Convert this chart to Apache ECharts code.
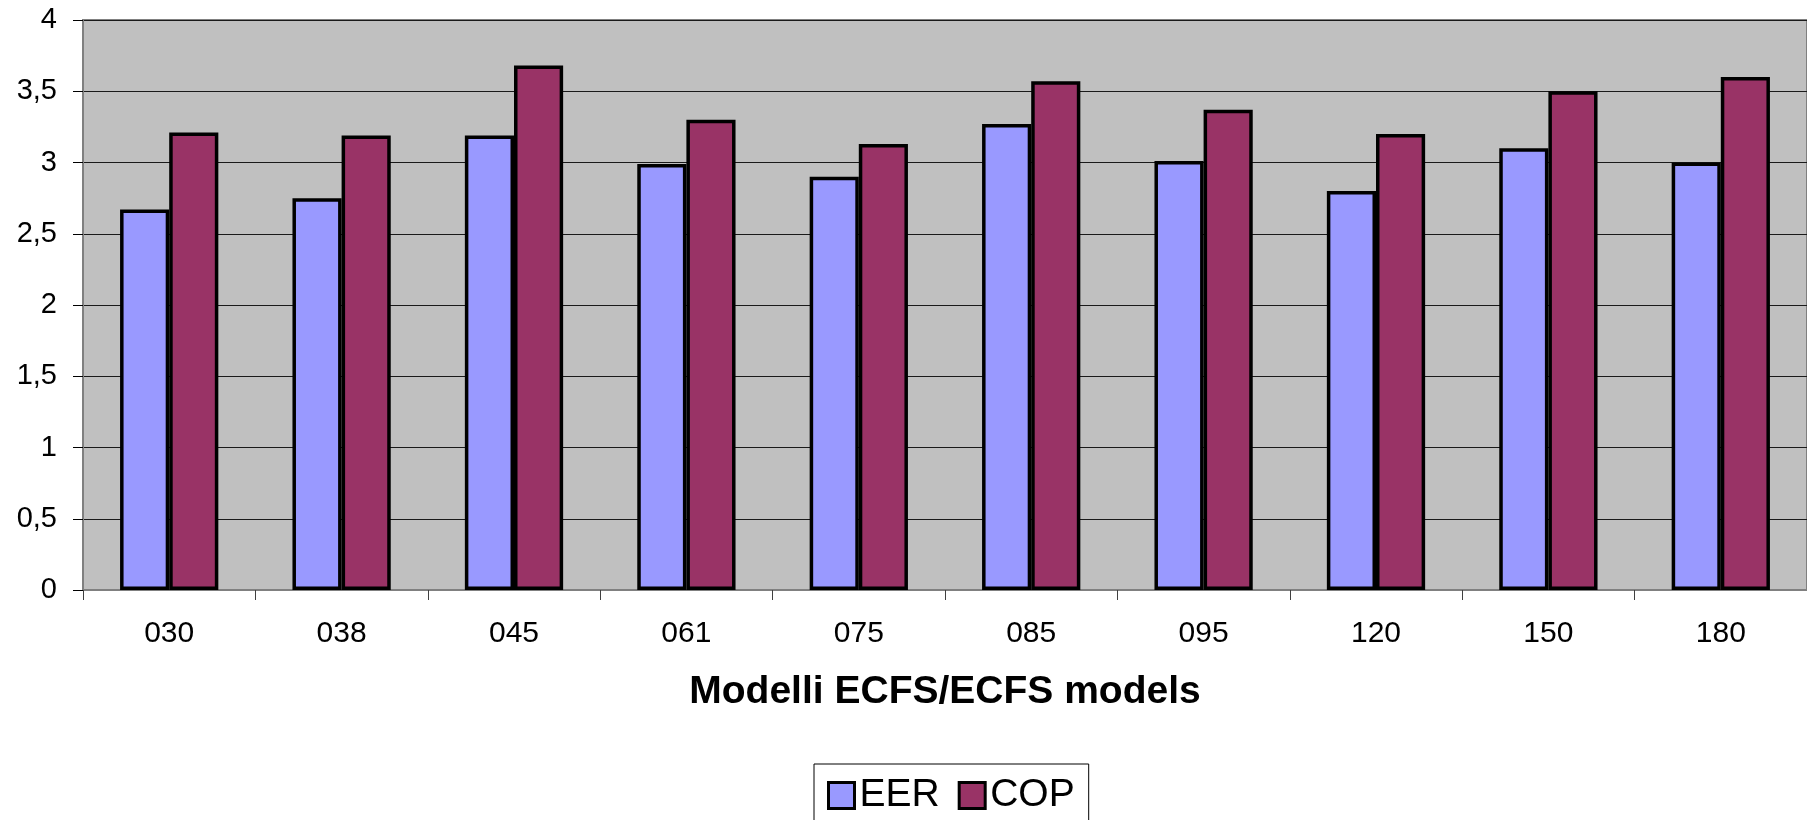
<!DOCTYPE html>
<html>
<head>
<meta charset="utf-8">
<script src="https://cdn.jsdelivr.net/npm/echarts@6/dist/echarts.min.js"></script>
<style>
html,body{margin:0;padding:0;background:#fff;}
#chart{width:1807px;height:820px;}
</style>
</head>
<body>
<div id="chart"></div>
<script>
const categories = ['030','038','045','061','075','085','095','120','150','180'];
const eerValues = [2.67, 2.75, 3.19, 2.99, 2.90, 3.27, 3.01, 2.80, 3.10, 3.00];
const copValues = [3.21, 3.19, 3.68, 3.30, 3.13, 3.57, 3.37, 3.20, 3.50, 3.60];
const seriesNames = ['EER', 'COP'];
const xAxisTitle = 'Modelli ECFS/ECFS models';

const FONT = '"Liberation Sans", Arial, sans-serif';
const chart = echarts.init(document.getElementById('chart'), null, {renderer: 'canvas'});
chart.setOption({
  animation: false,
  backgroundColor: '#ffffff',
  textStyle: {fontFamily: FONT},
  grid: {
    left: 83, top: 20, width: 1729, height: 570,
    show: true, backgroundColor: '#c0c0c0', borderColor: '#808080', borderWidth: 2
  },
  legend: {
    data: seriesNames,
    left: 814, top: 764,
    orient: 'horizontal',
    icon: 'rect',
    itemWidth: 26, itemHeight: 26, itemGap: 18,
    padding: [12, 14, 12, 13],
    backgroundColor: '#ffffff',
    borderColor: '#000000', borderWidth: 1,
    itemStyle: {borderColor: '#000', borderWidth: 3},
    textStyle: {fontFamily: FONT, fontSize: 39, color: '#000'}
  },
  xAxis: {
    type: 'category',
    data: categories,
    boundaryGap: true,
    name: xAxisTitle,
    nameLocation: 'middle',
    nameGap: 83,
    nameTextStyle: {fontFamily: FONT, fontSize: 39, fontWeight: 'bold', color: '#000'},
    axisLine: {show: true, lineStyle: {color: '#808080', width: 2}},
    axisTick: {show: true, length: 10, lineStyle: {color: '#404040', width: 1}},
    axisLabel: {fontFamily: FONT, fontSize: 30, color: '#000', margin: 29},
    splitLine: {show: false}
  },
  yAxis: {
    type: 'value',
    min: 0, max: 4, interval: 0.5,
    axisLine: {show: true, lineStyle: {color: '#808080', width: 2}},
    axisTick: {show: true, length: 10, lineStyle: {color: '#000', width: 1}},
    axisLabel: {
      fontFamily: FONT, fontSize: 29, color: '#000', margin: 26,
      formatter: v => String(v).replace('.', ',')
    },
    splitLine: {show: true, lineStyle: {color: '#1a1a1a', width: 1}}
  },
  series: [
    {
      name: seriesNames[0], type: 'bar', data: eerValues,
      barGap: '0%', barCategoryGap: '43%',
      itemStyle: {color: '#9999ff', borderColor: '#000', borderWidth: 3.5}
    },
    {
      name: seriesNames[1], type: 'bar', data: copValues,
      barGap: '0%', barCategoryGap: '43%',
      itemStyle: {color: '#993366', borderColor: '#000', borderWidth: 3.5}
    }
  ]
});
</script>
</body>
</html>
